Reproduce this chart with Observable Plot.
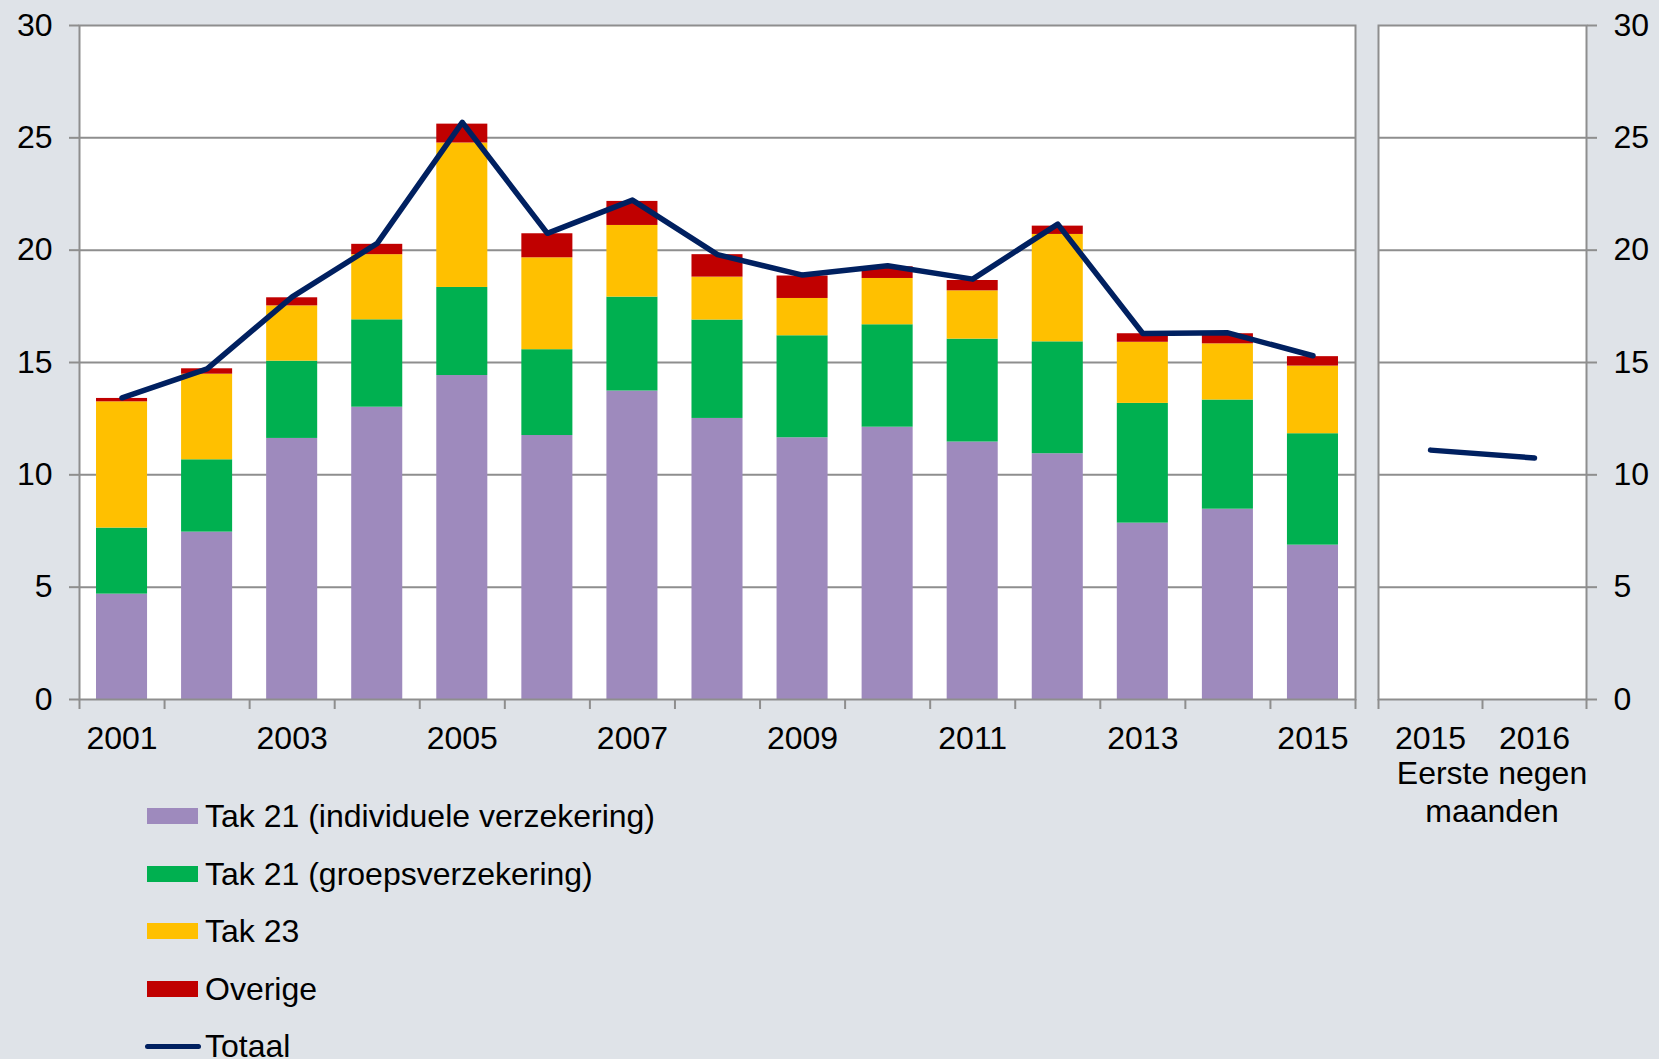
<!DOCTYPE html>
<html>
<head>
<meta charset="utf-8">
<script src="https://cdn.jsdelivr.net/npm/d3@7"></script>
<script src="https://cdn.jsdelivr.net/npm/@observablehq/plot@0.6"></script>
<style>
  html, body { margin: 0; padding: 0; background: #DFE3E8; }
  body { width: 1659px; height: 1059px; position: relative; overflow: hidden;
         font-family: "Liberation Sans", Arial, sans-serif; color: #000; }
  #left { position: absolute; left: 0; top: 0; }
  #right { position: absolute; left: 1366px; top: 0; }
  #note { position: absolute; left: 1382px; top: 755px; width: 220px; text-align: center;
          font-size: 32px; line-height: 37.5px; }
  .lrow { position: absolute; left: 147px; height: 40px; display: flex; align-items: center;
          font-size: 32px; line-height: 40px; white-space: nowrap; }
  .sw { width: 51px; height: 16px; margin-right: 7px; }
  .swl { width: 56px; height: 5px; border-radius: 3px; margin-left: -2px; margin-right: 4px; }
</style>
</head>
<body>
<div id="left"></div>
<div id="right"></div>
<div id="note">Eerste negen<br>maanden</div>
<div id="legend"></div>
<script>
// ---- data (miljard euro) ----
const years = [2001, 2002, 2003, 2004, 2005, 2006, 2007, 2008, 2009, 2010, 2011, 2012, 2013, 2014, 2015];
const tak21Individueel = [4.69, 7.45, 11.62, 13.01, 14.42, 11.75, 13.73, 12.51, 11.65, 12.12, 11.46, 10.94, 7.85, 8.47, 6.87];
const tak21Groep       = [2.94, 3.22, 3.44, 3.89, 3.92, 3.82, 4.18, 4.38, 4.54, 4.56, 4.58, 4.98, 5.33, 4.86, 4.96];
const tak23            = [5.62, 3.81, 2.46, 2.90, 6.43, 4.09, 3.19, 1.91, 1.66, 2.06, 2.15, 4.78, 2.72, 2.50, 3.01];
const overige          = [0.15, 0.24, 0.36, 0.46, 0.84, 1.07, 1.07, 1.00, 1.00, 0.52, 0.46, 0.37, 0.38, 0.45, 0.42];
const totaal           = [13.43, 14.72, 17.92, 20.30, 25.69, 20.75, 22.23, 19.80, 18.89, 19.31, 18.71, 21.16, 16.29, 16.32, 15.30];

const periodYears = [2015, 2016];           // eerste negen maanden
const periodTotaal = [11.10, 10.75];

const seriesNames = ["Tak 21 (individuele verzekering)", "Tak 21 (groepsverzekering)", "Tak 23", "Overige"];
const seriesColors = ["#9E8ABD", "#00B050", "#FFC000", "#C00000"];
const lineName = "Totaal";
const lineColor = "#002060";
const yTicks = [0, 5, 10, 15, 20, 25, 30];
const gridTicks = [5, 10, 15, 20, 25];

// ---- build tables ----
const seriesValues = [tak21Individueel, tak21Groep, tak23, overige];
const stackRows = years.flatMap((yr, i) => {
  let acc = 0;
  return seriesNames.map((name, s) => {
    const y1 = acc; acc += seriesValues[s][i];
    return {year: yr, series: name, y1, y2: acc};
  });
});
const totalRows = years.map((yr, i) => ({year: yr, value: totaal[i]}));
const periodRows = periodYears.map((yr, i) => ({year: yr, value: periodTotaal[i]}));

const gridColor = "#8E8E8E";
const font = "\"Liberation Sans\", Arial, sans-serif";
const common = {
  height: 770, marginTop: 25, marginBottom: 71,
  style: {background: "transparent", fontFamily: font, fontSize: "32px", color: "#000", overflow: "visible"},
  color: {domain: seriesNames, range: seriesColors},
  y: {domain: [0, 30], label: null}
};
const halfBar = 0.3;
const lineW = 5.5;

// ---- left panel ----
const boundaries = years.map(y => y - 0.5).concat([years[years.length - 1] + 0.5]);
const left = Plot.plot({
  ...common,
  width: 1366, marginLeft: 79, marginRight: 11,
  x: {domain: [boundaries[0], boundaries[boundaries.length - 1]], label: null},
  marks: [
    Plot.frame({fill: "white", stroke: null}),
    Plot.gridY(gridTicks, {stroke: gridColor, strokeOpacity: 1, strokeWidth: 2}),
    Plot.rect(stackRows, {x1: d => d.year - halfBar, x2: d => d.year + halfBar, y1: "y1", y2: "y2", fill: "series"}),
    Plot.line(totalRows, {x: "year", y: "value", stroke: lineColor, strokeWidth: lineW, strokeLinejoin: "round", strokeLinecap: "round"}),
    Plot.frame({stroke: gridColor, strokeWidth: 2}),
    Plot.axisY(yTicks, {tickSize: 10, tickPadding: 17, stroke: gridColor, strokeWidth: 2, fill: "#000", fontSize: 32, label: null}),
    Plot.axisX(boundaries, {tickSize: 10, tickFormat: () => "", stroke: gridColor, strokeWidth: 2, label: null}),
    Plot.axisX(years.filter((y, i) => i % 2 === 0), {tickSize: 0, tickPadding: 27, tickFormat: d => String(d), fill: "#000", fontSize: 32, label: null})
  ]
});
document.getElementById("left").append(left);

// ---- right panel ----
const pBoundaries = periodYears.map(y => y - 0.5).concat([periodYears[periodYears.length - 1] + 0.5]);
const right = Plot.plot({
  ...common,
  width: 293, marginLeft: 12, marginRight: 73,
  x: {domain: [pBoundaries[0], pBoundaries[pBoundaries.length - 1]], label: null},
  marks: [
    Plot.frame({fill: "white", stroke: null}),
    Plot.gridY(gridTicks, {stroke: gridColor, strokeOpacity: 1, strokeWidth: 2}),
    Plot.line(periodRows, {x: "year", y: "value", stroke: lineColor, strokeWidth: lineW, strokeLinecap: "round"}),
    Plot.frame({stroke: gridColor, strokeWidth: 2}),
    Plot.axisY(yTicks, {anchor: "right", tickSize: 10, tickPadding: 17, stroke: gridColor, strokeWidth: 2, fill: "#000", fontSize: 32, label: null}),
    Plot.axisX(pBoundaries, {tickSize: 10, tickFormat: () => "", stroke: gridColor, strokeWidth: 2, label: null}),
    Plot.axisX(periodYears, {tickSize: 0, tickPadding: 27, tickFormat: d => String(d), fill: "#000", fontSize: 32, label: null})
  ]
});
document.getElementById("right").append(right);

// ---- legend ----
const legend = document.getElementById("legend");
const rowTop0 = 796, rowStep = 57.5;
seriesNames.forEach((name, i) => {
  const row = document.createElement("div");
  row.className = "lrow";
  row.style.top = (rowTop0 + i * rowStep) + "px";
  const sw = document.createElement("div");
  sw.className = "sw"; sw.style.background = seriesColors[i];
  const t = document.createElement("span"); t.textContent = name;
  row.append(sw, t); legend.append(row);
});
{
  const row = document.createElement("div");
  row.className = "lrow";
  row.style.top = (rowTop0 + seriesNames.length * rowStep) + "px";
  const sw = document.createElement("div");
  sw.className = "swl"; sw.style.background = lineColor;
  const t = document.createElement("span"); t.textContent = lineName;
  row.append(sw, t); legend.append(row);
}
</script>
</body>
</html>
